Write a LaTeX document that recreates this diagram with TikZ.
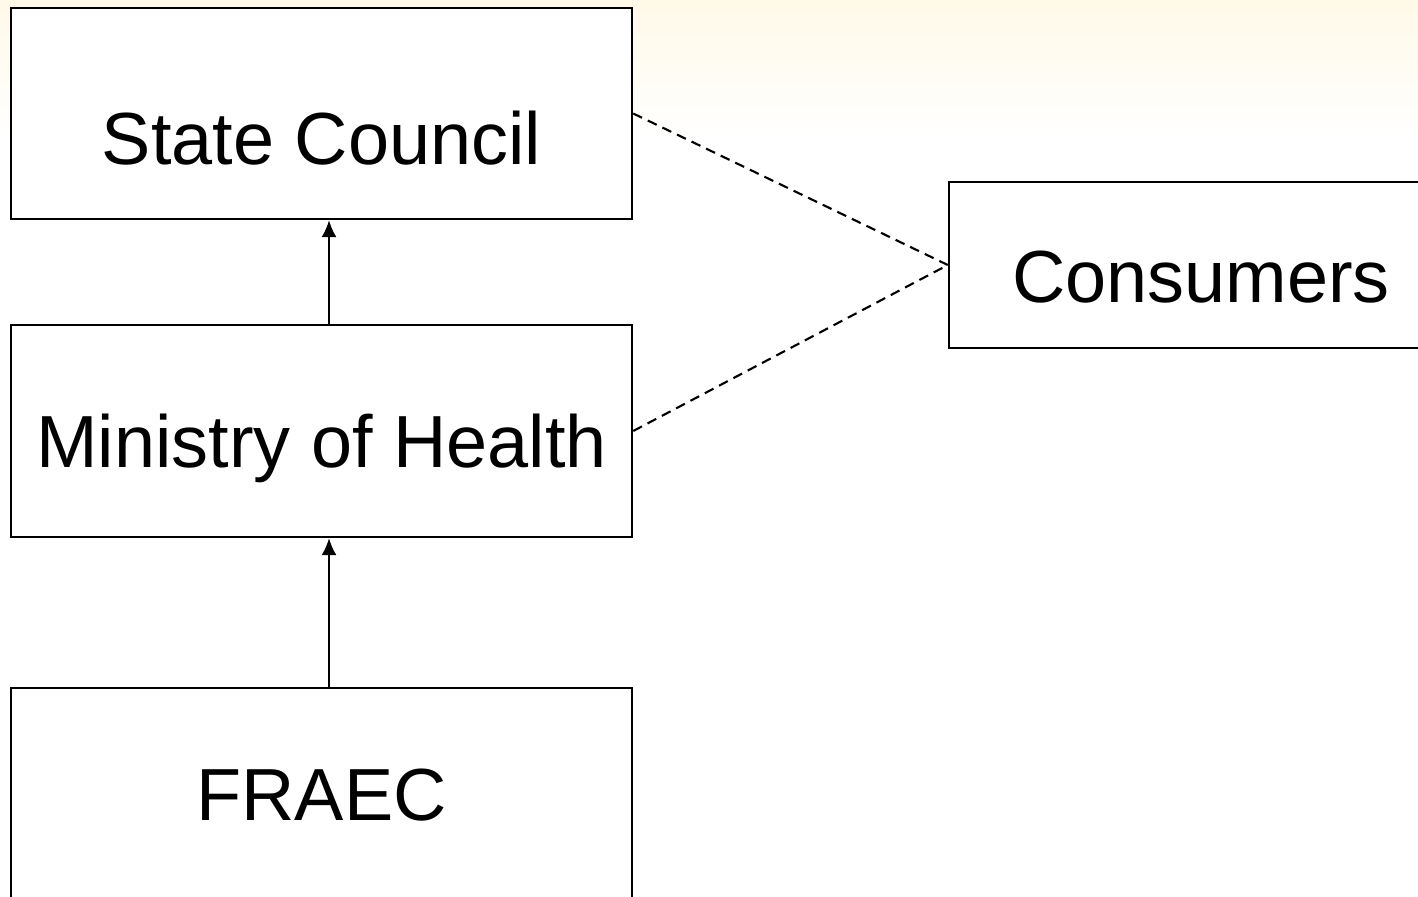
\documentclass[tikz,border=0pt]{standalone}
\usepackage{fontspec}
\setmainfont{Liberation Sans}
\usetikzlibrary{arrows.meta}
\definecolor{bgcream}{RGB}{255,249,232}

\begin{document}
\begin{tikzpicture}[x=0.01cm,y=-0.01cm,
		box/.style={draw,line width=0.6pt,fill=white,minimum width=6.21cm,inner sep=0pt,text depth=0pt,font=\fontsize{21}{25}\selectfont},
		upline/.style={line width=0.6pt,-{Latex[length=0.17cm,width=0.15cm]}},
		dashline/.style={line width=0.6pt,dash pattern=on 2.8pt off 1.8pt}]
		\useasboundingbox (0,0) rectangle (1418,897);
		\clip (0,0) rectangle (1418,897);
		% faint backdrop at the top
		\shade[top color=bgcream,bottom color=white] (0,0) rectangle (1418,140);
		\node[box,minimum height=2.11cm,text height=1.01cm] (sc) at (321.5,113.5) {State Council};
		\node[box,minimum height=2.12cm,text height=0.73cm] (moh) at (321.5,431) {Ministry of Health};
		\node[box,minimum height=2.11cm,text height=0.53cm] (fraec) at (321.5,793.5) {FRAEC};
		\node[box,minimum width=5.04cm,minimum height=1.66cm,text height=0.74cm] (con) at (1201,265) {Consumers};
		\coordinate (ax) at (329,0);
		\draw[upline] (moh.north -| ax) -- (sc.south -| ax);
		\draw[upline] (fraec.north -| ax) -- (moh.south -| ax);
		\draw[dashline] (sc.east) -- (con.west);
		\draw[dashline] (moh.east) -- (con.west);
		\end{tikzpicture}
\end{document}
